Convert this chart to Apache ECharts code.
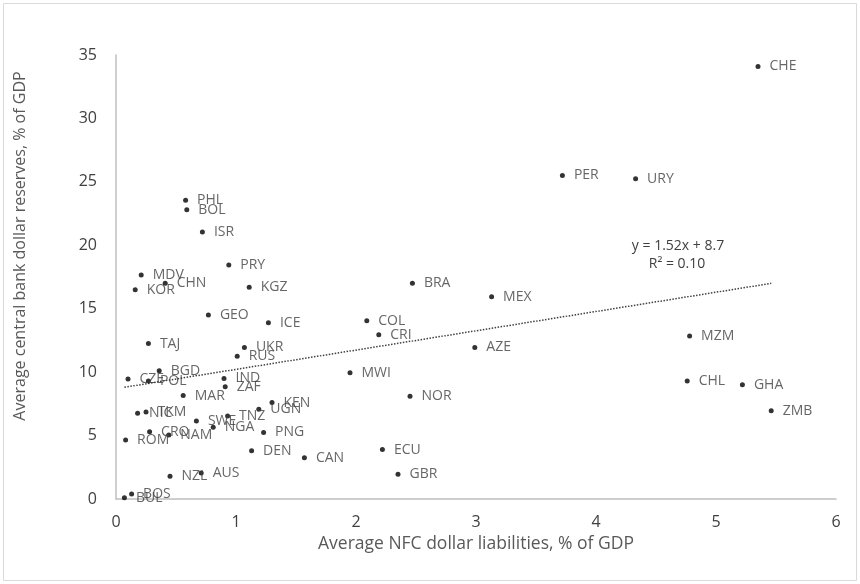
<!DOCTYPE html>
<html>
<head>
<meta charset="utf-8">
<script src="https://cdn.jsdelivr.net/npm/echarts@6/dist/echarts.min.js"></script>
<style>
  html, body { margin: 0; padding: 0; background: #ffffff; }
  #chart { width: 860px; height: 584px; }
</style>
</head>
<body>
<div id="chart"></div>
<script>
// Country codes with their average NFC dollar liabilities (x) and central bank dollar reserves (y), % of GDP
const countries = ['CHE','PER','URY','PHL','BOL','ISR','PRY','MDV','CHN','KOR','KGZ','BRA','MEX','GEO','ICE','COL','CRI','TAJ','UKR','RUS','AZE','MZM','BGD','CZE','POL','IND','ZAF','MWI','CHL','GHA','MAR','NOR','KEN','UGN','ZMB','NIC','TKM','TNZ','SWE','NGA','PNG','CRO','NAM','ROM','DEN','ECU','CAN','NZL','AUS','GBR','BOS','BUL'];
const liabilities = [5.35,3.72,4.33,0.58,0.59,0.72,0.94,0.21,0.41,0.16,1.11,2.47,3.13,0.77,1.27,2.09,2.19,0.27,1.07,1.01,2.99,4.78,0.36,0.10,0.27,0.90,0.91,1.95,4.76,5.22,0.56,2.45,1.30,1.19,5.46,0.18,0.25,0.93,0.67,0.81,1.23,0.28,0.44,0.08,1.13,2.22,1.57,0.45,0.71,2.35,0.13,0.07];
const reserves = [34.1,25.5,25.25,23.55,22.8,21.05,18.45,17.65,17.0,16.5,16.7,17.0,15.95,14.5,13.9,14.05,12.95,12.25,11.95,11.25,11.95,12.85,10.1,9.45,9.3,9.5,8.85,9.95,9.3,9.0,8.15,8.1,7.6,7.07,6.95,6.75,6.85,6.55,6.15,5.65,5.25,5.3,5.05,4.65,3.8,3.9,3.25,1.8,2.05,1.95,0.4,0.1];

// Linear trend fitted to the sample
const trendSlope = 1.52;
const trendIntercept = 8.7;
const trendEquation = 'y = 1.52x + 8.7';
const trendR2 = 'R² = 0.10';

const xTicks = [0, 1, 2, 3, 4, 5, 6];
const yTicks = [0, 5, 10, 15, 20, 25, 30, 35];

const FONT = 'Open Sans';
const TEXT = '#404040';
const AXIS_TEXT = '#595959';

const points = countries.map((c, i) => ({ name: c, value: [liabilities[i], reserves[i]] }));
const xMin = Math.min(...liabilities);
const xMax = Math.max(...liabilities);
const trend = [xMin, xMax].map(x => [x, trendSlope * x + trendIntercept]);

const chart = echarts.init(document.getElementById('chart'), null, { renderer: 'canvas' });
chart.setOption({
  backgroundColor: '#ffffff',
  animation: false,
  textStyle: { fontFamily: FONT },
  grid: { left: 116, top: 55, width: 720, height: 444, containLabel: false },
  xAxis: {
    type: 'value',
    min: xTicks[0], max: xTicks[xTicks.length - 1], interval: 1,
    name: 'Average NFC dollar liabilities, % of GDP',
    nameLocation: 'middle', nameGap: 30,
    nameTextStyle: { fontFamily: FONT, fontSize: 17.5, color: AXIS_TEXT },
    axisLine: { show: true, lineStyle: { color: '#bfbfbf', width: 1.5 } },
    axisTick: { show: false },
    splitLine: { show: false },
    axisLabel: { fontFamily: FONT, fontSize: 16, color: TEXT, margin: 15 }
  },
  yAxis: {
    type: 'value',
    min: yTicks[0], max: yTicks[yTicks.length - 1], interval: 5,
    axisLine: { show: true, lineStyle: { color: '#bfbfbf', width: 1.5 } },
    axisTick: { show: false },
    splitLine: { show: false },
    axisLabel: { fontFamily: FONT, fontSize: 16, color: TEXT, margin: 19 }
  },
  graphic: [
    {
      type: 'rect', silent: true,
      shape: { x: 3.5, y: 3.5, width: 853, height: 577 },
      style: { fill: 'none', stroke: '#d9d9d9', lineWidth: 1 }
    },
    {
      // y-axis title, rotated
      type: 'text', x: 20, y: 246, rotation: Math.PI / 2, silent: true,
      style: { text: 'Average central bank dollar reserves, % of GDP', align: 'center', verticalAlign: 'middle', font: '16px "Open Sans"', fill: AXIS_TEXT }
    },
    {
      type: 'text', x: 678, y: 246, silent: true,
      style: { text: trendEquation, align: 'center', verticalAlign: 'middle', font: '14px "Open Sans"', fill: TEXT }
    },
    {
      type: 'text', x: 677, y: 264, silent: true,
      style: { text: trendR2, align: 'center', verticalAlign: 'middle', font: '14px "Open Sans"', fill: TEXT }
    }
  ],
  series: [
    {
      type: 'line',
      data: trend,
      symbol: 'none',
      silent: true,
      lineStyle: { color: '#404040', width: 1.5, type: [1.5, 1.5] },
      z: 1
    },
    {
      type: 'scatter',
      data: points,
      symbol: 'circle',
      symbolSize: 5,
      itemStyle: { color: '#000000' },
      label: {
        show: true,
        position: 'right',
        distance: 9,
        offset: [0, 2],
        formatter: p => p.name,
        fontFamily: FONT,
        fontSize: 14,
        color: TEXT
      },
      labelLayout: { hideOverlap: false },
      z: 3
    }
  ]
});
</script>
</body>
</html>
